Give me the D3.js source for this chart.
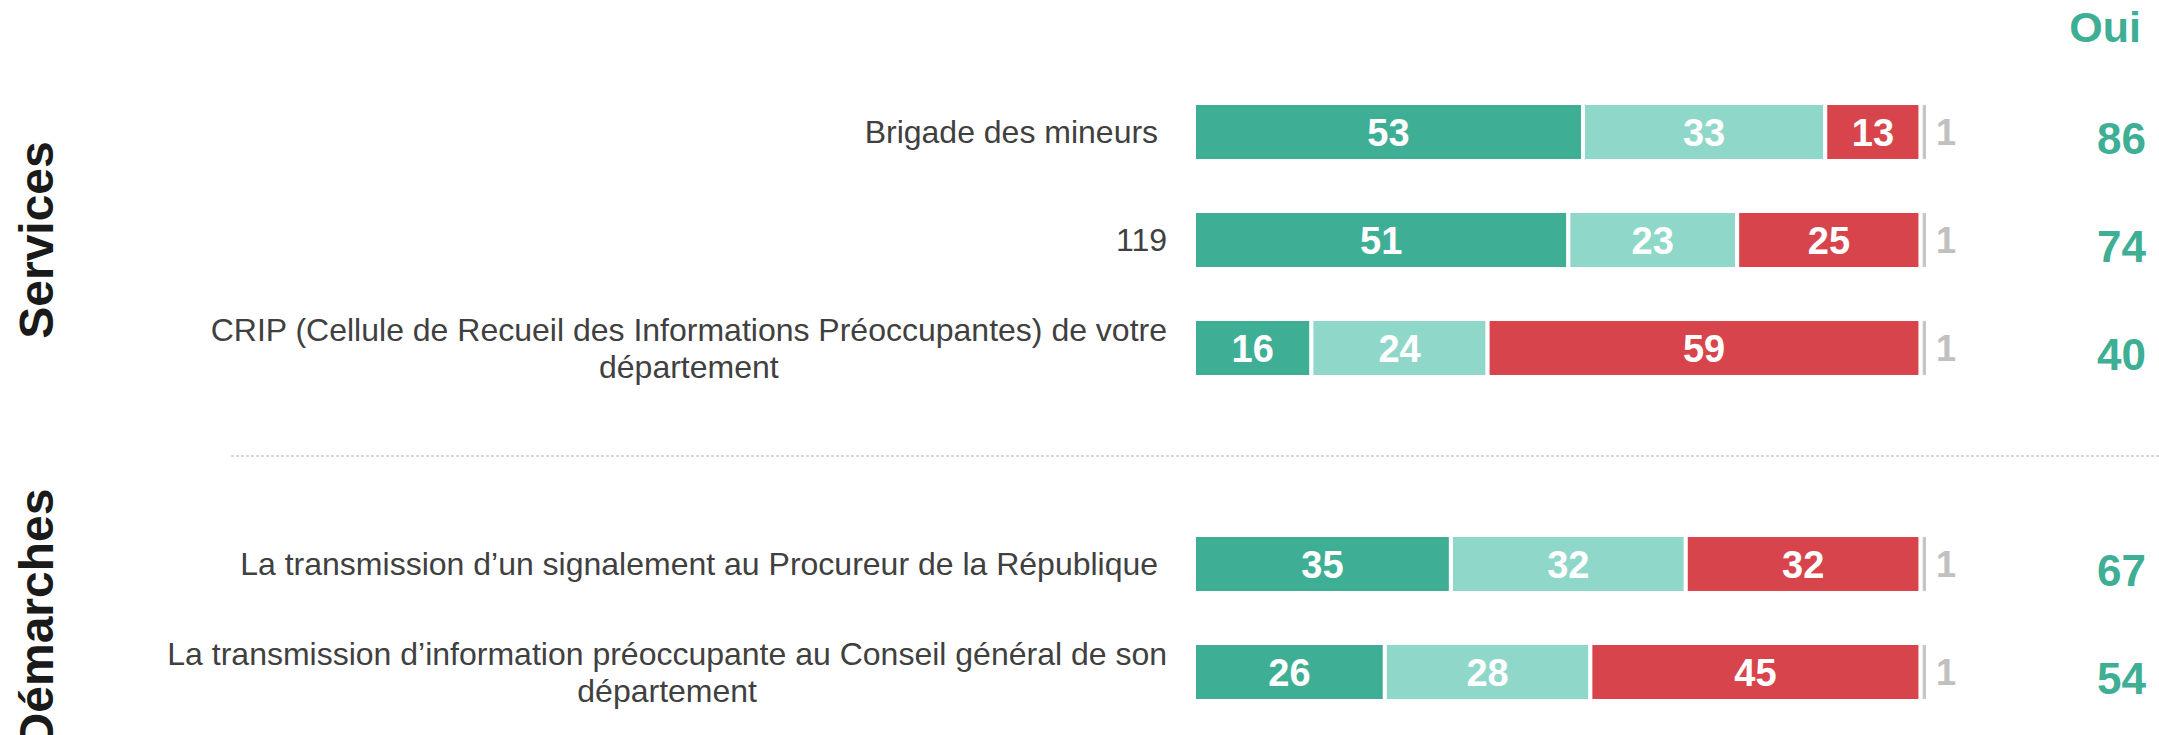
<!DOCTYPE html>
<html>
<head>
<meta charset="utf-8">
<script src="https://cdn.jsdelivr.net/npm/d3@7"></script>
<style>
    body { margin: 0; background: #fff; }
    text { font-family: "Liberation Sans", Arial, sans-serif; }
</style>
</head>
<body>
<div id="chart"></div>
<script>
// Data
// =================================
var groups = ["Services", "Démarches"];
var categories = [
    "Brigade des mineurs\u00a0",
    "119",
    "CRIP (Cellule de Recueil des Informations Préoccupantes) de votre\ndépartement",
    "La transmission d’un signalement au Procureur de la République\u00a0",
    "La transmission d’information préoccupante au Conseil général de son\ndépartement"
];
var groupOf = [0, 0, 0, 1, 1];
var ouiTout = [53, 51, 16, 35, 26];
var ouiPlutot = [33, 23, 24, 32, 28];
var non = [13, 25, 59, 32, 45];
var nsp = [1, 1, 1, 1, 1];
var totalOui = [86, 74, 40, 67, 54];
var ouiHeader = "Oui";

var colors = ["#3eae95", "#8fd7c8", "#d8444c", "#c6c6c6"];

// Set up the chart
// =================================
var svgWidth = 2159;
var svgHeight = 735;

var svg = d3.select("#chart")
    .append("svg")
    .attr("width", svgWidth)
    .attr("height", svgHeight);

// slot index: one empty slot between the two groups
var rows = categories.map(function (c, i) {
    return {
        label: c,
        slot: i + groupOf[i],
        group: groupOf[i],
        values: [ouiTout[i], ouiPlutot[i], non[i], nsp[i]],
        oui: totalOui[i]
    };
});

var xScale = d3.scaleLinear()
    .domain([0, 100])
    .range([1194, 1928]);

var yScale = d3.scaleLinear()
    .domain([0, 5])
    .range([132, 672]);

var barHeight = 58;
var labelRight = 1167;

// Bars
// =================================
var rowGroups = svg.selectAll(".row")
    .data(rows)
    .enter()
    .append("g")
    .attr("class", "row");

rowGroups.each(function (d) {
    var g = d3.select(this);
    var cy = yScale(d.slot);
    var acc = 0;
    var segs = d.values.map(function (v, k) {
        var s = { v: v, k: k, x0: acc, x1: acc + v };
        acc += v;
        return s;
    });

    g.selectAll("rect")
        .data(segs)
        .enter()
        .append("rect")
        .attr("x", s => xScale(s.x0))
        .attr("width", s => xScale(s.x1) - xScale(s.x0))
        .attr("y", cy - barHeight / 2)
        .attr("height", barHeight)
        .attr("fill", s => colors[s.k])
        .attr("stroke", "#fff")
        .attr("stroke-width", 4);

    // values inside the bar
    g.selectAll(".val")
        .data(segs.filter(s => s.k < 3))
        .enter()
        .append("text")
        .attr("class", "val")
        .attr("x", s => (xScale(s.x0) + xScale(s.x1)) / 2)
        .attr("y", cy)
        .attr("dy", "0.36em")
        .attr("text-anchor", "middle")
        .attr("font-size", "38px")
        .attr("font-weight", "bold")
        .attr("fill", "#fff")
        .text(s => s.v);

    // the small "nsp" value after the bar
    var last = segs[3];
    g.append("text")
        .attr("x", xScale(last.x1) + 8)
        .attr("y", cy)
        .attr("dy", "0.36em")
        .attr("text-anchor", "start")
        .attr("font-size", "36px")
        .attr("font-weight", "bold")
        .attr("fill", "#c0c0c0")
        .text(last.v);

    // total Oui
    g.append("text")
        .attr("x", 2146)
        .attr("y", cy + 6)
        .attr("dy", "0.36em")
        .attr("text-anchor", "end")
        .attr("font-size", "44px")
        .attr("font-weight", "bold")
        .attr("fill", colors[0])
        .text(d.oui);

    // category label, lines centred in a right-aligned block
    var lines = d.label.split("\n");
    var lineHeight = 37;
    var lab = g.append("text")
        .attr("font-size", "32px")
        .attr("fill", "#404040")
        .attr("text-anchor", "middle");
    var tspans = lab.selectAll("tspan")
        .data(lines)
        .enter()
        .append("tspan")
        .attr("y", (l, i) => cy + (i - (lines.length - 1) / 2) * lineHeight)
        .attr("dy", "0.35em")
        .text(l => l);
    var maxW = 0;
    tspans.each(function () {
        maxW = Math.max(maxW, this.getComputedTextLength());
    });
    tspans.attr("x", labelRight - maxW / 2);
});

// Separator between groups
svg.append("line")
    .attr("x1", 231)
    .attr("x2", svgWidth)
    .attr("y1", yScale(3))
    .attr("y2", yScale(3))
    .attr("stroke", "#cccccc")
    .attr("stroke-width", 1.5)
    .attr("stroke-dasharray", "3,2");

// Group labels
svg.selectAll(".group")
    .data(groups)
    .enter()
    .append("text")
    .attr("class", "group")
    .attr("transform", function (gname, gi) {
        var slots = rows.filter(r => r.group === gi).map(r => yScale(r.slot));
        var cy = d3.mean(slots);
        return `translate(53, ${cy}) rotate(-90)`;
    })
    .attr("text-anchor", "middle")
    .attr("font-size", "48px")
    .attr("font-weight", "bold")
    .attr("fill", "#1a1a1a")
    .text(gname => gname);

// Oui header
svg.append("text")
    .attr("x", 2141)
    .attr("y", 42)
    .attr("text-anchor", "end")
    .attr("font-size", "43px")
    .attr("font-weight", "bold")
    .attr("fill", colors[0])
    .text(ouiHeader);
</script>
</body>
</html>
